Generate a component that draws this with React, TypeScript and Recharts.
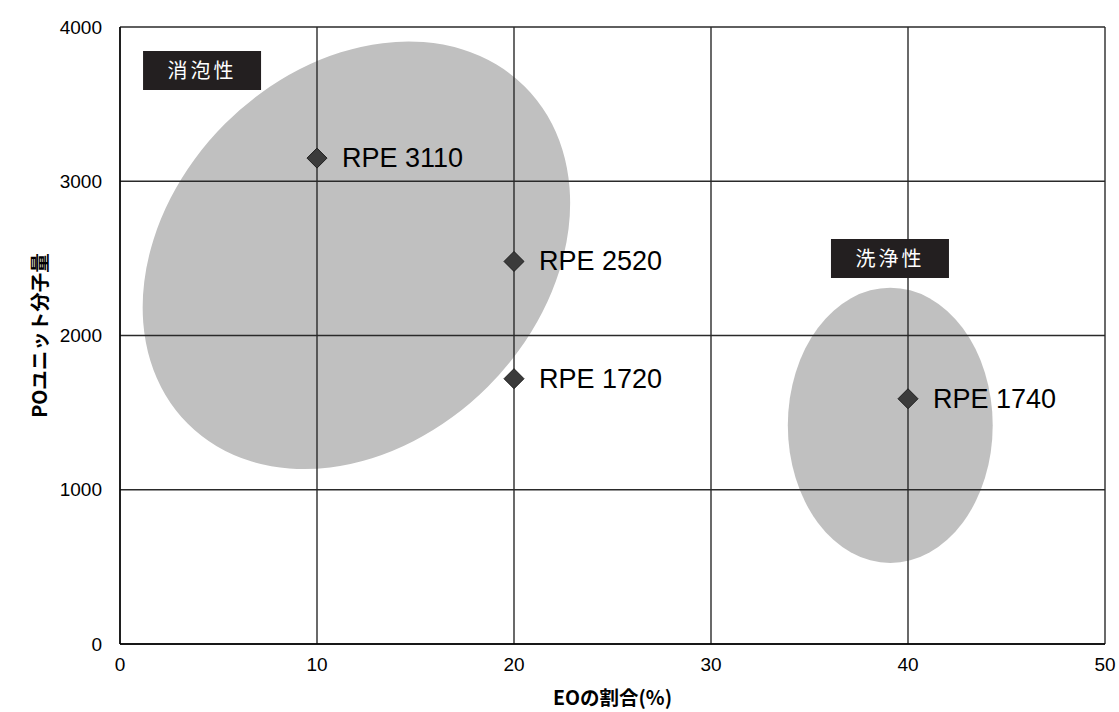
import React from 'react';
import {
  ScatterChart,
  Scatter,
  XAxis,
  YAxis,
  CartesianGrid,
  ReferenceArea,
} from 'recharts';

const xTicks = [0, 10, 20, 30, 40, 50];
const yTicks = [0, 1000, 2000, 3000, 4000];

const products = [
  { x: 10, y: 3150, name: 'RPE 3110' },
  { x: 20, y: 2480, name: 'RPE 2520' },
  { x: 20, y: 1720, name: 'RPE 1720' },
  { x: 40, y: 1590, name: 'RPE 1740' },
];

// ellipse boxes (before tilt) in data units
const zones = [
  { x1: -0.1, x2: 24.1, y1: 1315, y2: 3725, tilt: -45 },
  { x1: 33.9, x2: 44.3, y1: 525, y2: 2310, tilt: 0 },
];

const tags = [
  { label: '消泡性', x1: 1.17, x2: 7.16, y1: 3592, y2: 3844 },
  { label: '洗浄性', x1: 36.09, x2: 42.08, y1: 2373, y2: 2626 },
];

const FONT = '"Liberation Sans", Arial, sans-serif';
const JP = '"Noto Sans CJK JP", "Liberation Sans", sans-serif';

const Blob = (props: any) => {
  const { x, y, width, height, tilt } = props;
  const cx = x + width / 2;
  const cy = y + height / 2;
  return (
    <ellipse
      cx={cx}
      cy={cy}
      rx={width / 2}
      ry={height / 2}
      transform={`rotate(${tilt} ${cx} ${cy})`}
      fill="#c0c0c0"
    />
  );
};

const Marker = (props: any) => {
  const { cx, cy, payload } = props;
  const r = 10;
  return (
    <g>
      <path
        d={`M${cx},${cy - r}L${cx + r},${cy}L${cx},${cy + r}L${cx - r},${cy}Z`}
        fill="#3b3b3b"
        stroke="#1e1e1e"
        strokeWidth={1}
      />
      <text
        x={cx + 25}
        y={cy}
        dominantBaseline="central"
        fontSize={27}
        fontFamily={FONT}
        fill="#000"
      >
        {payload.name}
      </text>
    </g>
  );
};

const YTitle = (props: any) => {
  const { viewBox } = props;
  const x = 38;
  const y = viewBox.y + viewBox.height / 2;
  return (
    <text
      x={x}
      y={y}
      transform={`rotate(-90 ${x} ${y})`}
      textAnchor="middle"
      dominantBaseline="central"
      fontSize={19.5}
      fontWeight="bold"
      fontFamily={JP}
      fill="#000"
    >
      POユニット分子量
    </text>
  );
};

export default function App() {
  return (
    <div style={{ position: 'absolute', left: 0, top: 0, background: '#fff' }}>
      <ScatterChart
        width={1119}
        height={712}
        margin={{ top: 27, right: 14, bottom: 0, left: 0 }}
      >
        {zones.map((z, i) => (
          <ReferenceArea
            key={`zone-${i}`}
            x1={z.x1}
            x2={z.x2}
            y1={z.y1}
            y2={z.y2}
            ifOverflow="visible"
            zIndex={-200}
            shape={(p: any) => <Blob {...p} tilt={z.tilt} />}
          />
        ))}
        <CartesianGrid stroke="#2a2a2a" strokeWidth={1.4} horizontalValues={yTicks} verticalValues={xTicks} />
        <XAxis
          type="number"
          dataKey="x"
          domain={[0, 50]}
          ticks={xTicks}
          interval={0}
          height={68}
          tickLine={false}
          tickSize={0}
          tickMargin={14}
          axisLine={{ stroke: '#000', strokeWidth: 1.4 }}
          tick={{ fill: '#000', fontSize: 19, fontFamily: FONT }}
          label={{
            value: 'EOの割合(%)',
            position: 'insideBottom',
            offset: 7,
            fill: '#000',
            fontSize: 19.5,
            fontWeight: 'bold',
            fontFamily: JP,
          }}
        />
        <YAxis
          type="number"
          dataKey="y"
          domain={[0, 4000]}
          ticks={yTicks}
          interval={0}
          width={120}
          tickLine={false}
          tickSize={0}
          tickMargin={18}
          axisLine={{ stroke: '#000', strokeWidth: 1.4 }}
          tick={{ fill: '#000', fontSize: 19, fontFamily: FONT }}
          label={<YTitle />}
        />
        {tags.map((t, i) => (
          <ReferenceArea
            key={`tag-${i}`}
            x1={t.x1}
            x2={t.x2}
            y1={t.y1}
            y2={t.y2}
            ifOverflow="visible"
            fill="#231f20"
            fillOpacity={1}
            stroke="none"
            label={{
              value: t.label,
              position: 'center',
              fill: '#fff',
              fontSize: 20,
              fontFamily: JP,
              letterSpacing: 3,
            }}
          />
        ))}
        <Scatter data={products} shape={<Marker />} isAnimationActive={false} />
      </ScatterChart>
    </div>
  );
}
